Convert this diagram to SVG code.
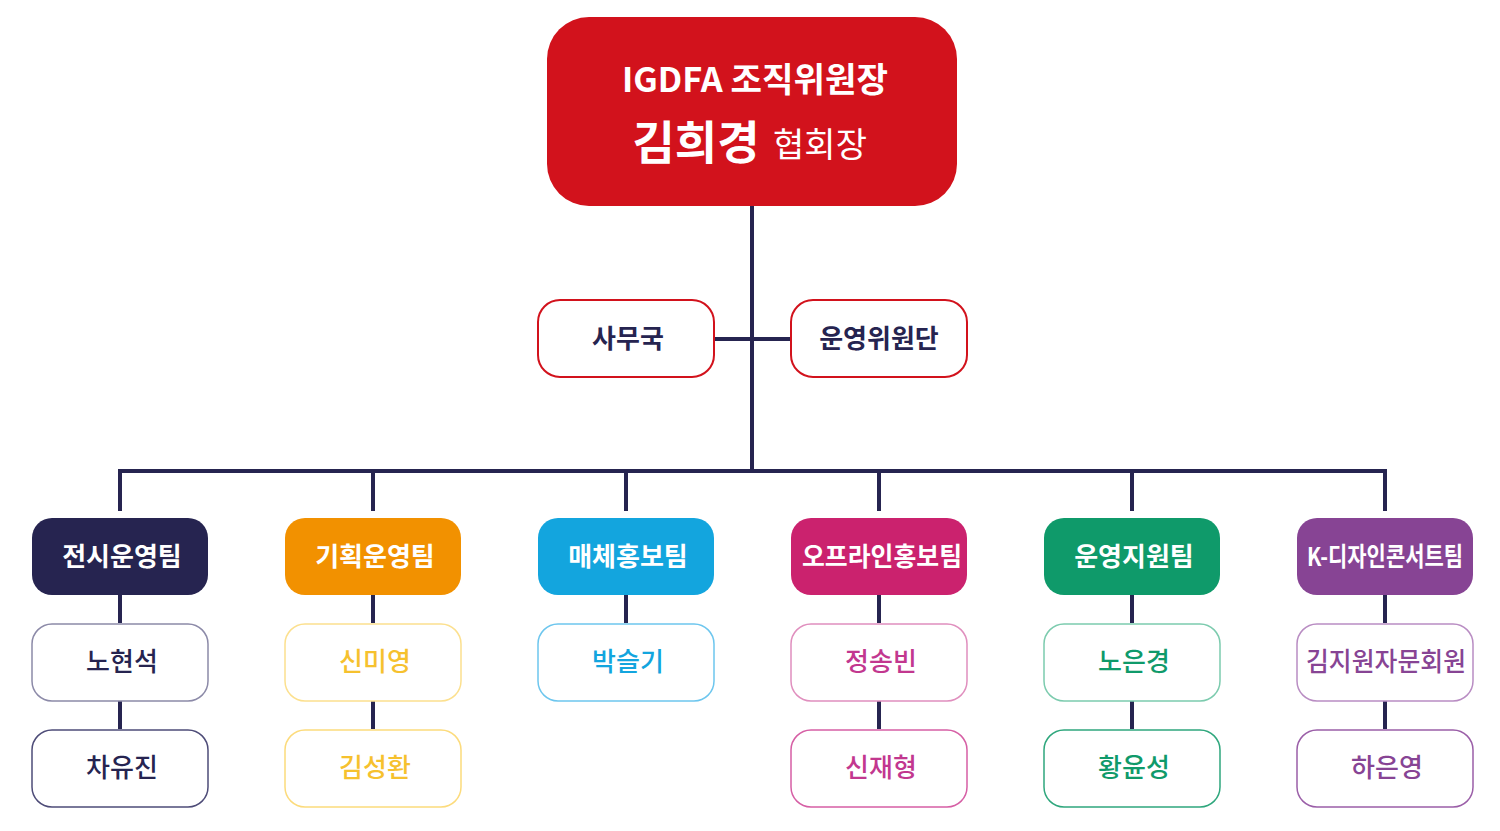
<svg xmlns="http://www.w3.org/2000/svg" width="1500" height="831" viewBox="0 0 1500 831">
<style>
text{font-family:"Noto Sans CJK KR","Noto Sans",sans-serif;text-anchor:middle}
.team{font-size:26px;font-weight:700;fill:#fff}
.mem{font-size:26px;font-weight:500}
.mbox{fill:#fff;stroke-width:1.5}
.line{stroke:#262450;stroke-width:4;fill:none}
</style>
<rect width="1500" height="831" fill="#fff"/>
<g id="connectors">
<path class="line" d="M752 206V471M714 339H790M118 471H1387M120 469V511M373 469V511M626 469V511M879 469V511M1132 469V511M1385 469V511"/>
<path class="line" d="M120 595V623M120 701V729M373 595V623M373 701V729M626 595V623M879 595V623M879 701V729M1132 595V623M1132 701V729M1385 595V623M1385 701V729"/>
</g>
<g id="chair">
<rect x="547" y="17" width="410" height="189" rx="42" fill="#D2121C"/>
<text x="755" y="92" style="font-size:34px;font-weight:700;fill:#fff" textLength="266" lengthAdjust="spacingAndGlyphs">IGDFA 조직위원장</text>
<text x="696" y="159" style="font-size:46px;font-weight:700;fill:#fff">김희경</text>
<text x="820" y="157" style="font-size:34px;font-weight:400;fill:#fff">협회장</text>
</g>
<g id="samuguk">
<rect x="538" y="300" width="176" height="77" rx="22" fill="#fff" stroke="#D2121C" stroke-width="2"/>
<text x="628" y="348" style="font-size:26px;font-weight:700;fill:#262450">사무국</text>
</g>
<g id="committee">
<rect x="791" y="300" width="176" height="77" rx="22" fill="#fff" stroke="#D2121C" stroke-width="2"/>
<text x="879" y="348" style="font-size:26px;font-weight:700;fill:#262450">운영위원단</text>
</g>
<g id="team1">
<rect x="32" y="518" width="176" height="77" rx="20" fill="#262450"/>
<text class="team" x="122" y="566">전시운영팀</text>
</g>
<g id="team2">
<rect x="285" y="518" width="176" height="77" rx="20" fill="#F29100"/>
<text class="team" x="375" y="566">기획운영팀</text>
</g>
<g id="team3">
<rect x="538" y="518" width="176" height="77" rx="20" fill="#13A5DE"/>
<text class="team" x="628" y="566">매체홍보팀</text>
</g>
<g id="team4">
<rect x="791" y="518" width="176" height="77" rx="20" fill="#CB226E"/>
<text class="team" x="882" y="566" textLength="160" lengthAdjust="spacingAndGlyphs">오프라인홍보팀</text>
</g>
<g id="team5">
<rect x="1044" y="518" width="176" height="77" rx="20" fill="#0F9A6A"/>
<text class="team" x="1134" y="566">운영지원팀</text>
</g>
<g id="team6">
<rect x="1297" y="518" width="176" height="77" rx="20" fill="#874494"/>
<text class="team" x="1385" y="566" textLength="156" lengthAdjust="spacingAndGlyphs">K-디자인콘서트팀</text>
</g>
<g id="m1a"><rect class="mbox" x="32" y="624" width="176" height="77" rx="20" stroke="#8C8AA8"/><text class="mem" x="122" y="671" fill="#262450">노현석</text></g>
<g id="m1b"><rect class="mbox" x="32" y="730" width="176" height="77" rx="20" stroke="#4E4C78"/><text class="mem" x="122" y="777" fill="#262450">차유진</text></g>
<g id="m2a"><rect class="mbox" x="285" y="624" width="176" height="77" rx="20" stroke="#FCE08E"/><text class="mem" x="375" y="671" fill="#F6C12E">신미영</text></g>
<g id="m2b"><rect class="mbox" x="285" y="730" width="176" height="77" rx="20" stroke="#FCDB7C"/><text class="mem" x="375" y="777" fill="#F6C12E">김성환</text></g>
<g id="m3a"><rect class="mbox" x="538" y="624" width="176" height="77" rx="20" stroke="#6DC6EE"/><text class="mem" x="628" y="671" fill="#13A5DE">박슬기</text></g>
<g id="m4a"><rect class="mbox" x="791" y="624" width="176" height="77" rx="20" stroke="#E08FBE"/><text class="mem" x="881" y="671" fill="#C2378F">정송빈</text></g>
<g id="m4b"><rect class="mbox" x="791" y="730" width="176" height="77" rx="20" stroke="#D65FA5"/><text class="mem" x="881" y="777" fill="#C2378F">신재형</text></g>
<g id="m5a"><rect class="mbox" x="1044" y="624" width="176" height="77" rx="20" stroke="#7CCBAE"/><text class="mem" x="1134" y="671" fill="#0F9A6A">노은경</text></g>
<g id="m5b"><rect class="mbox" x="1044" y="730" width="176" height="77" rx="20" stroke="#2FA77D"/><text class="mem" x="1134" y="777" fill="#0F9A6A">황윤성</text></g>
<g id="m6a"><rect class="mbox" x="1297" y="624" width="176" height="77" rx="20" stroke="#B98DC3"/><text class="mem" x="1386" y="671" fill="#874494" textLength="160" lengthAdjust="spacingAndGlyphs">김지원자문회원</text></g>
<g id="m6b"><rect class="mbox" x="1297" y="730" width="176" height="77" rx="20" stroke="#9B5FA8"/><text class="mem" x="1387" y="777" fill="#874494">하은영</text></g>
</svg>
